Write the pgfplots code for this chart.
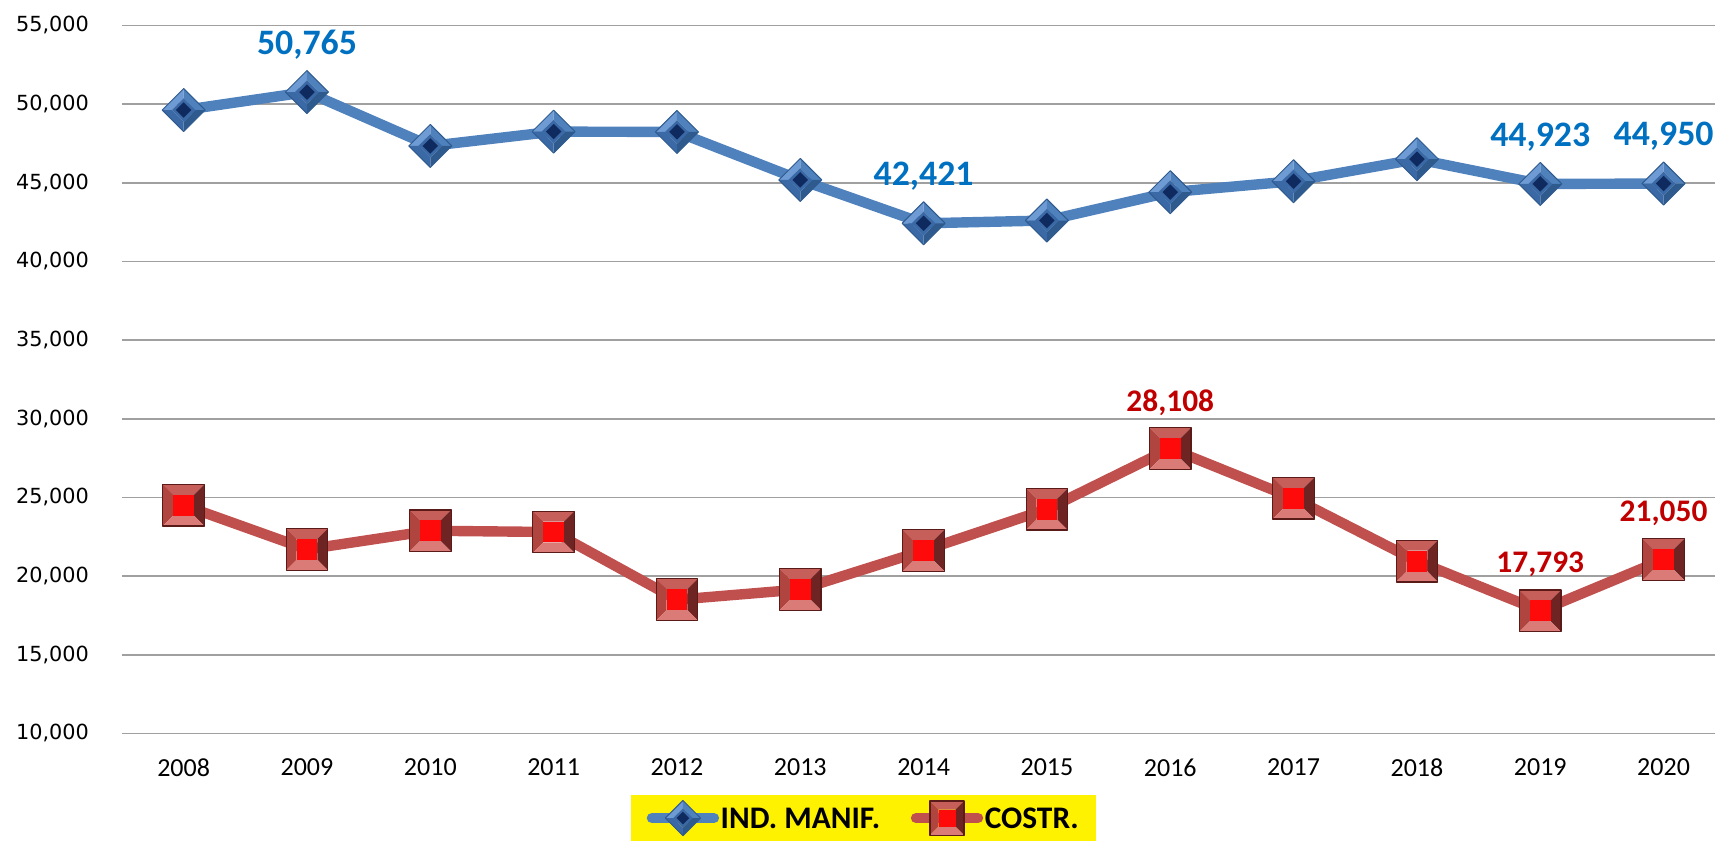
\documentclass[border=0pt]{standalone}
\usepackage{fontspec}
\setmainfont{Carlito}
\newfontfamily\dejavu{DejaVu Sans}
\usepackage{pgfplots}
\pgfplotsset{compat=1.18}
\definecolor{blueline}{HTML}{4F81BD}
\definecolor{bluelight}{HTML}{6E9BD3}
\definecolor{bluedark}{HTML}{2E5A8E}
\definecolor{bluemid}{HTML}{3A69A6}
\definecolor{bluenavy}{HTML}{0F2A5E}
\definecolor{redline}{HTML}{C0504D}
\definecolor{redtop}{HTML}{C65E5A}
\definecolor{redleft}{HTML}{B0443F}
\definecolor{redright}{HTML}{6E2422}
\definecolor{redbottom}{HTML}{DB7B77}
\definecolor{redcore}{HTML}{FF0A0A}
\definecolor{rededge}{HTML}{5A1A18}
\definecolor{labblue}{HTML}{0070C0}
\definecolor{labred}{HTML}{C00000}
\definecolor{gridgray}{HTML}{A0A0A0}
\newcommand\bevq[8]{%
  \pgfpathmoveto{\pgfqpoint{#1\pgfplotmarksize}{#2\pgfplotmarksize}}%
  \pgfpathlineto{\pgfqpoint{#3\pgfplotmarksize}{#4\pgfplotmarksize}}%
  \pgfpathlineto{\pgfqpoint{#5\pgfplotmarksize}{#6\pgfplotmarksize}}%
  \pgfpathlineto{\pgfqpoint{#7\pgfplotmarksize}{#8\pgfplotmarksize}}%
  \pgfpathclose}
\pgfdeclareplotmark{bevdiamond}{%
  \pgfsetlinewidth{0.5pt}%
  \pgfsetfillcolor{bluelight}\bevq{-1}{0}{0}{1}{0}{0.55}{-0.55}{0}\pgfusepath{fill}%
  \pgfsetfillcolor{blueline}\bevq{0}{1}{1}{0}{0.55}{0}{0}{0.55}\pgfusepath{fill}%
  \pgfsetfillcolor{bluedark}\bevq{1}{0}{0}{-1}{0}{-0.55}{0.55}{0}\pgfusepath{fill}%
  \pgfsetfillcolor{bluemid}\bevq{0}{-1}{-1}{0}{-0.55}{0}{0}{-0.55}\pgfusepath{fill}%
  \pgfsetfillcolor{bluemid}\bevq{0}{0.55}{0.55}{0}{0}{-0.55}{-0.55}{0}\pgfusepath{fill}%
  \pgfsetfillcolor{bluenavy}\bevq{0}{0.36}{0.36}{0}{0}{-0.36}{-0.36}{0}\pgfusepath{fill}%
  \pgfsetstrokecolor{bluedark}\bevq{0}{1}{1}{0}{0}{-1}{-1}{0}\pgfusepath{stroke}%
}
\pgfdeclareplotmark{bevsquare}{%
  \pgfsetlinewidth{0.6pt}%
  \pgfsetfillcolor{redtop}\bevq{-1}{1}{1}{1}{0.5}{0.5}{-0.5}{0.5}\pgfusepath{fill}%
  \pgfsetfillcolor{redleft}\bevq{-1}{1}{-0.5}{0.5}{-0.5}{-0.5}{-1}{-1}\pgfusepath{fill}%
  \pgfsetfillcolor{redright}\bevq{1}{1}{1}{-1}{0.5}{-0.5}{0.5}{0.5}\pgfusepath{fill}%
  \pgfsetfillcolor{redbottom}\bevq{-1}{-1}{-0.5}{-0.5}{0.5}{-0.5}{1}{-1}\pgfusepath{fill}%
  \pgfsetfillcolor{redcore}\bevq{-0.5}{0.5}{0.5}{0.5}{0.5}{-0.5}{-0.5}{-0.5}\pgfusepath{fill}%
  \pgfsetstrokecolor{rededge}\bevq{-1}{1}{1}{1}{1}{-1}{-1}{-1}\pgfusepath{stroke}%
}
\begin{document}
\begin{tikzpicture}
\path[use as bounding box] (-61pt,-54.85pt) rectangle (796.5pt,366.7pt);
\begin{axis}[
  at={(0pt,0pt)}, anchor=south west,
  width=796.5pt, height=354pt, scale only axis,
  xmin=-0.5, xmax=12.417,
  ymin=10000, ymax=55000,
  ytick={10000,15000,...,55000},
  xtick={0,...,12},
  xticklabels={2008,2009,2010,2011,2012,2013,2014,2015,2016,2017,2018,2019,2020},
  axis line style={draw=none},
  major tick length=0pt,
  ymajorgrids, grid style={gridgray, line width=0.8pt},
  scaled y ticks=false,
  /pgf/number format/1000 sep={,},
  /pgf/number format/assume math mode=true,
  y tick label style={font=\dejavu\fontsize{10.4}{12}\selectfont, xshift=-13pt},
  x tick label style={font=\fontsize{13}{15}\selectfont, yshift=-9.3pt},
  clip=false,
  legend columns=2,
  legend style={at={(0.4655,-0.1196)}, anchor=center, fill=yellow, draw=none,
    font=\bfseries\fontsize{15.7}{18}\selectfont,
    inner xsep=8pt, inner ysep=2.5pt,
    nodes={inner sep=0.8pt, text depth=0pt},
    /tikz/every even column/.append style={column sep=14.5pt}},
  legend image code/.code={\draw[mark repeat=2,mark phase=2,#1,mark size=0.82\pgfplotmarksize] plot coordinates {(0pt,0pt) (15.5pt,0pt) (31pt,0pt)};},
]
\addplot[blueline, line width=5.2pt, line cap=round, line join=round, mark=bevdiamond, mark size=10.75pt]
  coordinates {(0,49620) (1,50765) (2,47340) (3,48250) (4,48230) (5,45180) (6,42421) (7,42600) (8,44400) (9,45100) (10,46500) (11,44923) (12,44950)};
\addlegendentry{IND. MANIF.}
\addplot[redline, line width=5.2pt, line cap=round, line join=round, mark=bevsquare, mark size=10.4pt]
  coordinates {(0,24500) (1,21700) (2,22880) (3,22800) (4,18500) (5,19150) (6,21620) (7,24250) (8,28108) (9,24950) (10,20950) (11,17793) (12,21050)};
\addlegendentry{COSTR.}
\addplot[forget plot, draw=none, mark=none, nodes near coords, point meta=y,
  nodes near coords style={font=\bfseries\fontsize{17.9}{20}\selectfont, text=labblue, anchor=center, yshift=23.5pt}]
  coordinates {(1,50765) (6,42421) (11,44923) (12,44950)};
\addplot[forget plot, draw=none, mark=none, nodes near coords, point meta=y,
  nodes near coords style={font=\bfseries\fontsize{15.7}{18}\selectfont, text=labred, anchor=center, yshift=23pt}]
  coordinates {(8,28108) (11,17793) (12,21050)};
\end{axis}
\end{tikzpicture}
\end{document}
